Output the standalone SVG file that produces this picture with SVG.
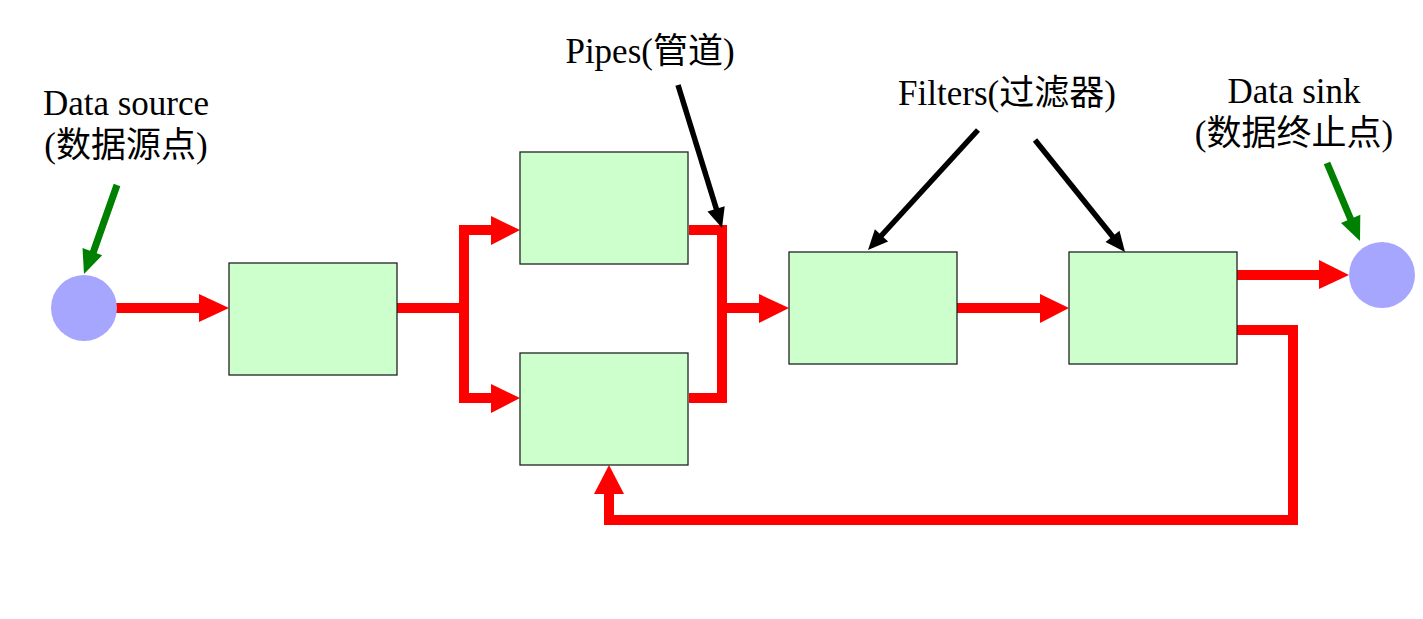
<svg xmlns="http://www.w3.org/2000/svg" width="1423" height="619" viewBox="0 0 1423 619">
<style>
.box{fill:#ccffcc;stroke:#222;stroke-width:1.3}
.end{fill:#a6a6ff}
.pipe{fill:none;stroke:#ff0000;stroke-width:10;stroke-linejoin:miter;stroke-linecap:butt}
.head{fill:#ff0000}
.lbl{font-family:"Liberation Serif","Noto Sans CJK SC",serif;font-size:35px;fill:#000;text-anchor:middle}
.blk{stroke:#000;stroke-width:5.5;fill:none}
.bh{fill:#000}
.grn{stroke:#008000;stroke-width:7;fill:none}
.gh{fill:#008000}
</style>
<rect width="1423" height="619" fill="#fff"/>
<g id="connectors">
<line class="pipe" x1="116" y1="308" x2="200" y2="308"/>
<polygon class="head" points="199,294 229,308 199,322"/>
<line class="pipe" x1="397" y1="308" x2="464" y2="308"/>
<polyline class="pipe" points="492,230 464,230 464,398 492,398"/>
<polygon class="head" points="491,216 520,230 491,245"/>
<polygon class="head" points="491,384 520,398 491,413"/>
<polyline class="pipe" points="689,230 722,230 722,398 689,398"/>
<line class="pipe" x1="722" y1="308" x2="760" y2="308"/>
<polygon class="head" points="759,294 789,308 759,323"/>
<line class="pipe" x1="957" y1="308" x2="1041" y2="308"/>
<polygon class="head" points="1040,294 1069,308 1040,323"/>
<line class="pipe" x1="1237" y1="275" x2="1320" y2="275"/>
<polygon class="head" points="1319,260 1349,275 1319,289"/>
<polyline class="pipe" points="1237,330 1293,330 1293,520 609,520 609,493"/>
<polygon class="head" points="594,494 609,465 624,494"/>
</g>
<g id="data-source">
<circle class="end" cx="84" cy="308" r="33"/>
<text class="lbl" x="126" y="115">Data source</text>
<text class="lbl" x="126" y="157">(数据源点)</text>
<line class="grn" x1="117" y1="185" x2="93" y2="253"/>
<polygon class="gh" points="84,274 82.5,247.9 102.2,255.2"/>
</g>
<g id="filter1"><rect class="box" x="229" y="263" width="168" height="112"/></g>
<g id="filter2"><rect class="box" x="520" y="152" width="168" height="112"/></g>
<g id="filter3"><rect class="box" x="520" y="353" width="168" height="112"/></g>
<g id="filter4"><rect class="box" x="789" y="252" width="168" height="112"/></g>
<g id="filter5"><rect class="box" x="1069" y="252" width="168" height="112"/></g>
<g id="data-sink">
<circle class="end" cx="1382" cy="275" r="33"/>
<text class="lbl" x="1294" y="103">Data sink</text>
<text class="lbl" x="1294" y="145">(数据终止点)</text>
<line class="grn" x1="1327" y1="163" x2="1351" y2="220"/>
<polygon class="gh" points="1360,241 1341,223 1360.3,214.8"/>
</g>
<g id="pipes-label">
<text class="lbl" x="650" y="63">Pipes(管道)</text>
<line class="blk" x1="678" y1="85" x2="717" y2="211"/>
<polygon class="bh" points="722,228 707.5,211.5 724.7,206.2"/>
</g>
<g id="filters-label">
<text class="lbl" x="1007" y="105">Filters(过滤器)</text>
<line class="blk" x1="978" y1="130" x2="881" y2="236"/>
<polygon class="bh" points="868,250 874.9,229.2 888.1,241.4"/>
<line class="blk" x1="1035" y1="140" x2="1113" y2="237"/>
<polygon class="bh" points="1125,252 1105.5,242 1119.5,230.8"/>
</g>
</svg>
